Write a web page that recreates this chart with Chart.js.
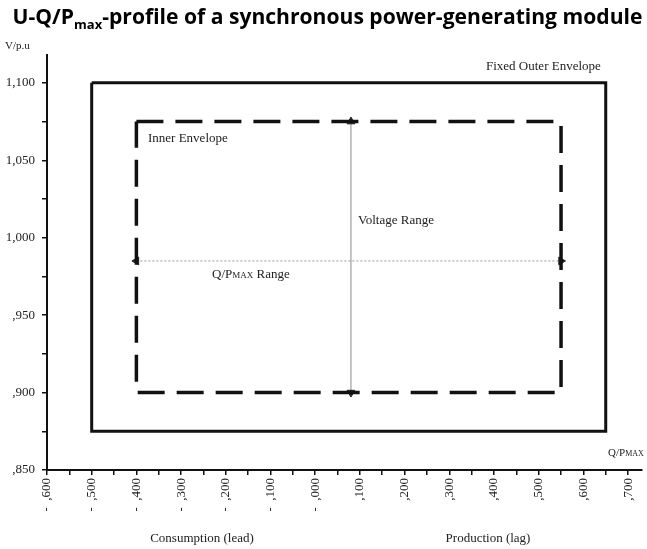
<!DOCTYPE html>
<html>
<head>
<meta charset="utf-8">
<script src="https://cdn.jsdelivr.net/npm/chart.js@4"></script>
<style>
  html, body { margin: 0; padding: 0; background: #fff; }
  #wrap { position: relative; width: 647px; height: 549px; overflow: hidden; }
  canvas { position: absolute; left: 0; top: 0; }
  .t { position: absolute; font-family: "Liberation Serif", serif; font-size: 13px; line-height: 1; color: #222; white-space: nowrap; }
  #title { position: absolute; left: 0; width: 655px; top: 5px; text-align: center; font-family: "Open Sans", sans-serif; font-weight: bold; font-size: 21.1px; line-height: 1; color: #000; white-space: nowrap; }
  #title sub { font-size: 13px; vertical-align: -5px; }
  .sc { font-size: 9px; }
</style>
</head>
<body>
<div id="wrap">
  <canvas id="chart" width="647" height="549"></canvas>
  <div id="title">U-Q/P<sub>max</sub>-profile of a synchronous power-generating module</div>
  <div class="t" style="left:5px; top:40px; font-size:11px;">V/p.u</div>
  <div class="t" style="left:486px; top:59px;">Fixed Outer Envelope</div>
  <div class="t" style="left:148px; top:131px;">Inner Envelope</div>
  <div class="t" style="left:358px; top:213px;">Voltage Range</div>
  <div class="t" style="left:212px; top:267px;">Q/P<span class="sc">MAX</span> Range</div>
  <div class="t" style="left:608px; top:447px; font-size:11px;">Q/P<span class="sc" style="font-size:8px">MAX</span></div>
  <div class="t" style="left:202px; top:531px; transform:translateX(-50%);">Consumption (lead)</div>
  <div class="t" style="left:488px; top:531px; transform:translateX(-50%);">Production (lag)</div>
</div>
<script>
// --- data (Q/Pmax on x, U in p.u. on y) ---
const outerQ = [-0.5, 0.65, 0.65, -0.5, -0.5];
const outerU = [1.1, 1.1, 0.875, 0.875, 1.1];
const innerQ = [-0.4, 0.55, 0.55, -0.4, -0.4];
const innerU = [1.075, 1.075, 0.9, 0.9, 1.075];
const voltArrowQ = [0.08, 0.08];
const voltArrowU = [0.9, 1.075];
const qArrowQ = [-0.4, 0.55];
const qArrowU = [0.985, 0.985];

const xMin = -0.6, xMax = 0.73;
const yMin = 0.85, yMax = 1.118;

// tick marks every 0.05 on Q, every 0.025 on U (labels only on the major ones)
const xTickValues = [];
for (let i = -12; i <= 14; i++) xTickValues.push(i / 20);
const yTickValues = [];
for (let i = 34; i <= 44; i++) yTickValues.push(i / 40);

function toPoints(xs, ys) {
  return xs.map((x, i) => ({ x: x, y: ys[i] }));
}

function fmtY(v) {
  if (Math.round(v * 1000) % 50 !== 0) return '';
  let s = v.toFixed(3).replace('.', ',');
  if (s.startsWith('0')) s = s.slice(1);
  return s;
}

function fmtX(v) {
  const n = Math.round(v * 1000);
  if (n % 100 !== 0) return '';
  const digits = String(Math.abs(n)).padStart(3, '0');
  return (n <= 0 ? '-  ,' : ',') + digits;
}

const serif = { family: '"Liberation Serif", serif', size: 13 };

new Chart(document.getElementById('chart'), {
  type: 'scatter',
  data: {
    datasets: [
      {
        data: toPoints(outerQ, outerU),
        showLine: true,
        borderColor: '#111',
        borderWidth: 3,
        pointRadius: 0,
        borderJoinStyle: 'miter'
      },
      {
        data: toPoints(innerQ, innerU),
        showLine: true,
        borderColor: '#111',
        borderWidth: 3.5,
        borderDash: [27, 12],
        pointRadius: 0,
        borderJoinStyle: 'miter'
      },
      {
        data: toPoints(voltArrowQ, voltArrowU),
        showLine: true,
        borderColor: '#8a8a8a',
        borderWidth: 1,
        pointStyle: 'triangle',
        pointRadius: 4.5,
        pointRotation: [180, 0],
        pointBackgroundColor: '#222',
        pointBorderColor: '#222',
        pointBorderWidth: 1
      },
      {
        data: toPoints(qArrowQ, qArrowU),
        showLine: true,
        borderColor: '#999',
        borderWidth: 1,
        borderDash: [2, 2],
        pointStyle: 'triangle',
        pointRadius: 4.5,
        pointRotation: [270, 90],
        pointBackgroundColor: '#222',
        pointBorderColor: '#222',
        pointBorderWidth: 1
      }
    ]
  },
  options: {
    responsive: false,
    animation: false,
    layout: { padding: { top: 55, right: 1.5, left: 0, bottom: 0 } },
    plugins: { legend: { display: false }, tooltip: { enabled: false }, title: { display: false } },
    scales: {
      x: {
        type: 'linear',
        min: xMin,
        max: xMax,
        afterFit: scale => {
          scale.height = 79;
          scale.paddingLeft = 0;
          scale.paddingRight = 0;
        },
        afterBuildTicks: scale => { scale.ticks = xTickValues.map(v => ({ value: v })); },
        border: { color: '#111', width: 2 },
        grid: { drawOnChartArea: false, color: '#111', lineWidth: 1.5, tickLength: 5 },
        ticks: {
          autoSkip: false,
          minRotation: 90,
          maxRotation: 90,
          padding: 3,
          color: '#222',
          font: serif,
          callback: v => fmtX(v)
        }
      },
      y: {
        type: 'linear',
        min: yMin,
        max: yMax,
        afterFit: scale => { scale.width = 47; },
        afterBuildTicks: scale => { scale.ticks = yTickValues.map(v => ({ value: v })); },
        border: { color: '#111', width: 2 },
        grid: { drawOnChartArea: false, color: '#111', lineWidth: 1.5, tickLength: 5 },
        ticks: {
          autoSkip: false,
          padding: 7,
          color: '#222',
          font: serif,
          callback: v => fmtY(v)
        }
      }
    }
  }
});
</script>
</body>
</html>
